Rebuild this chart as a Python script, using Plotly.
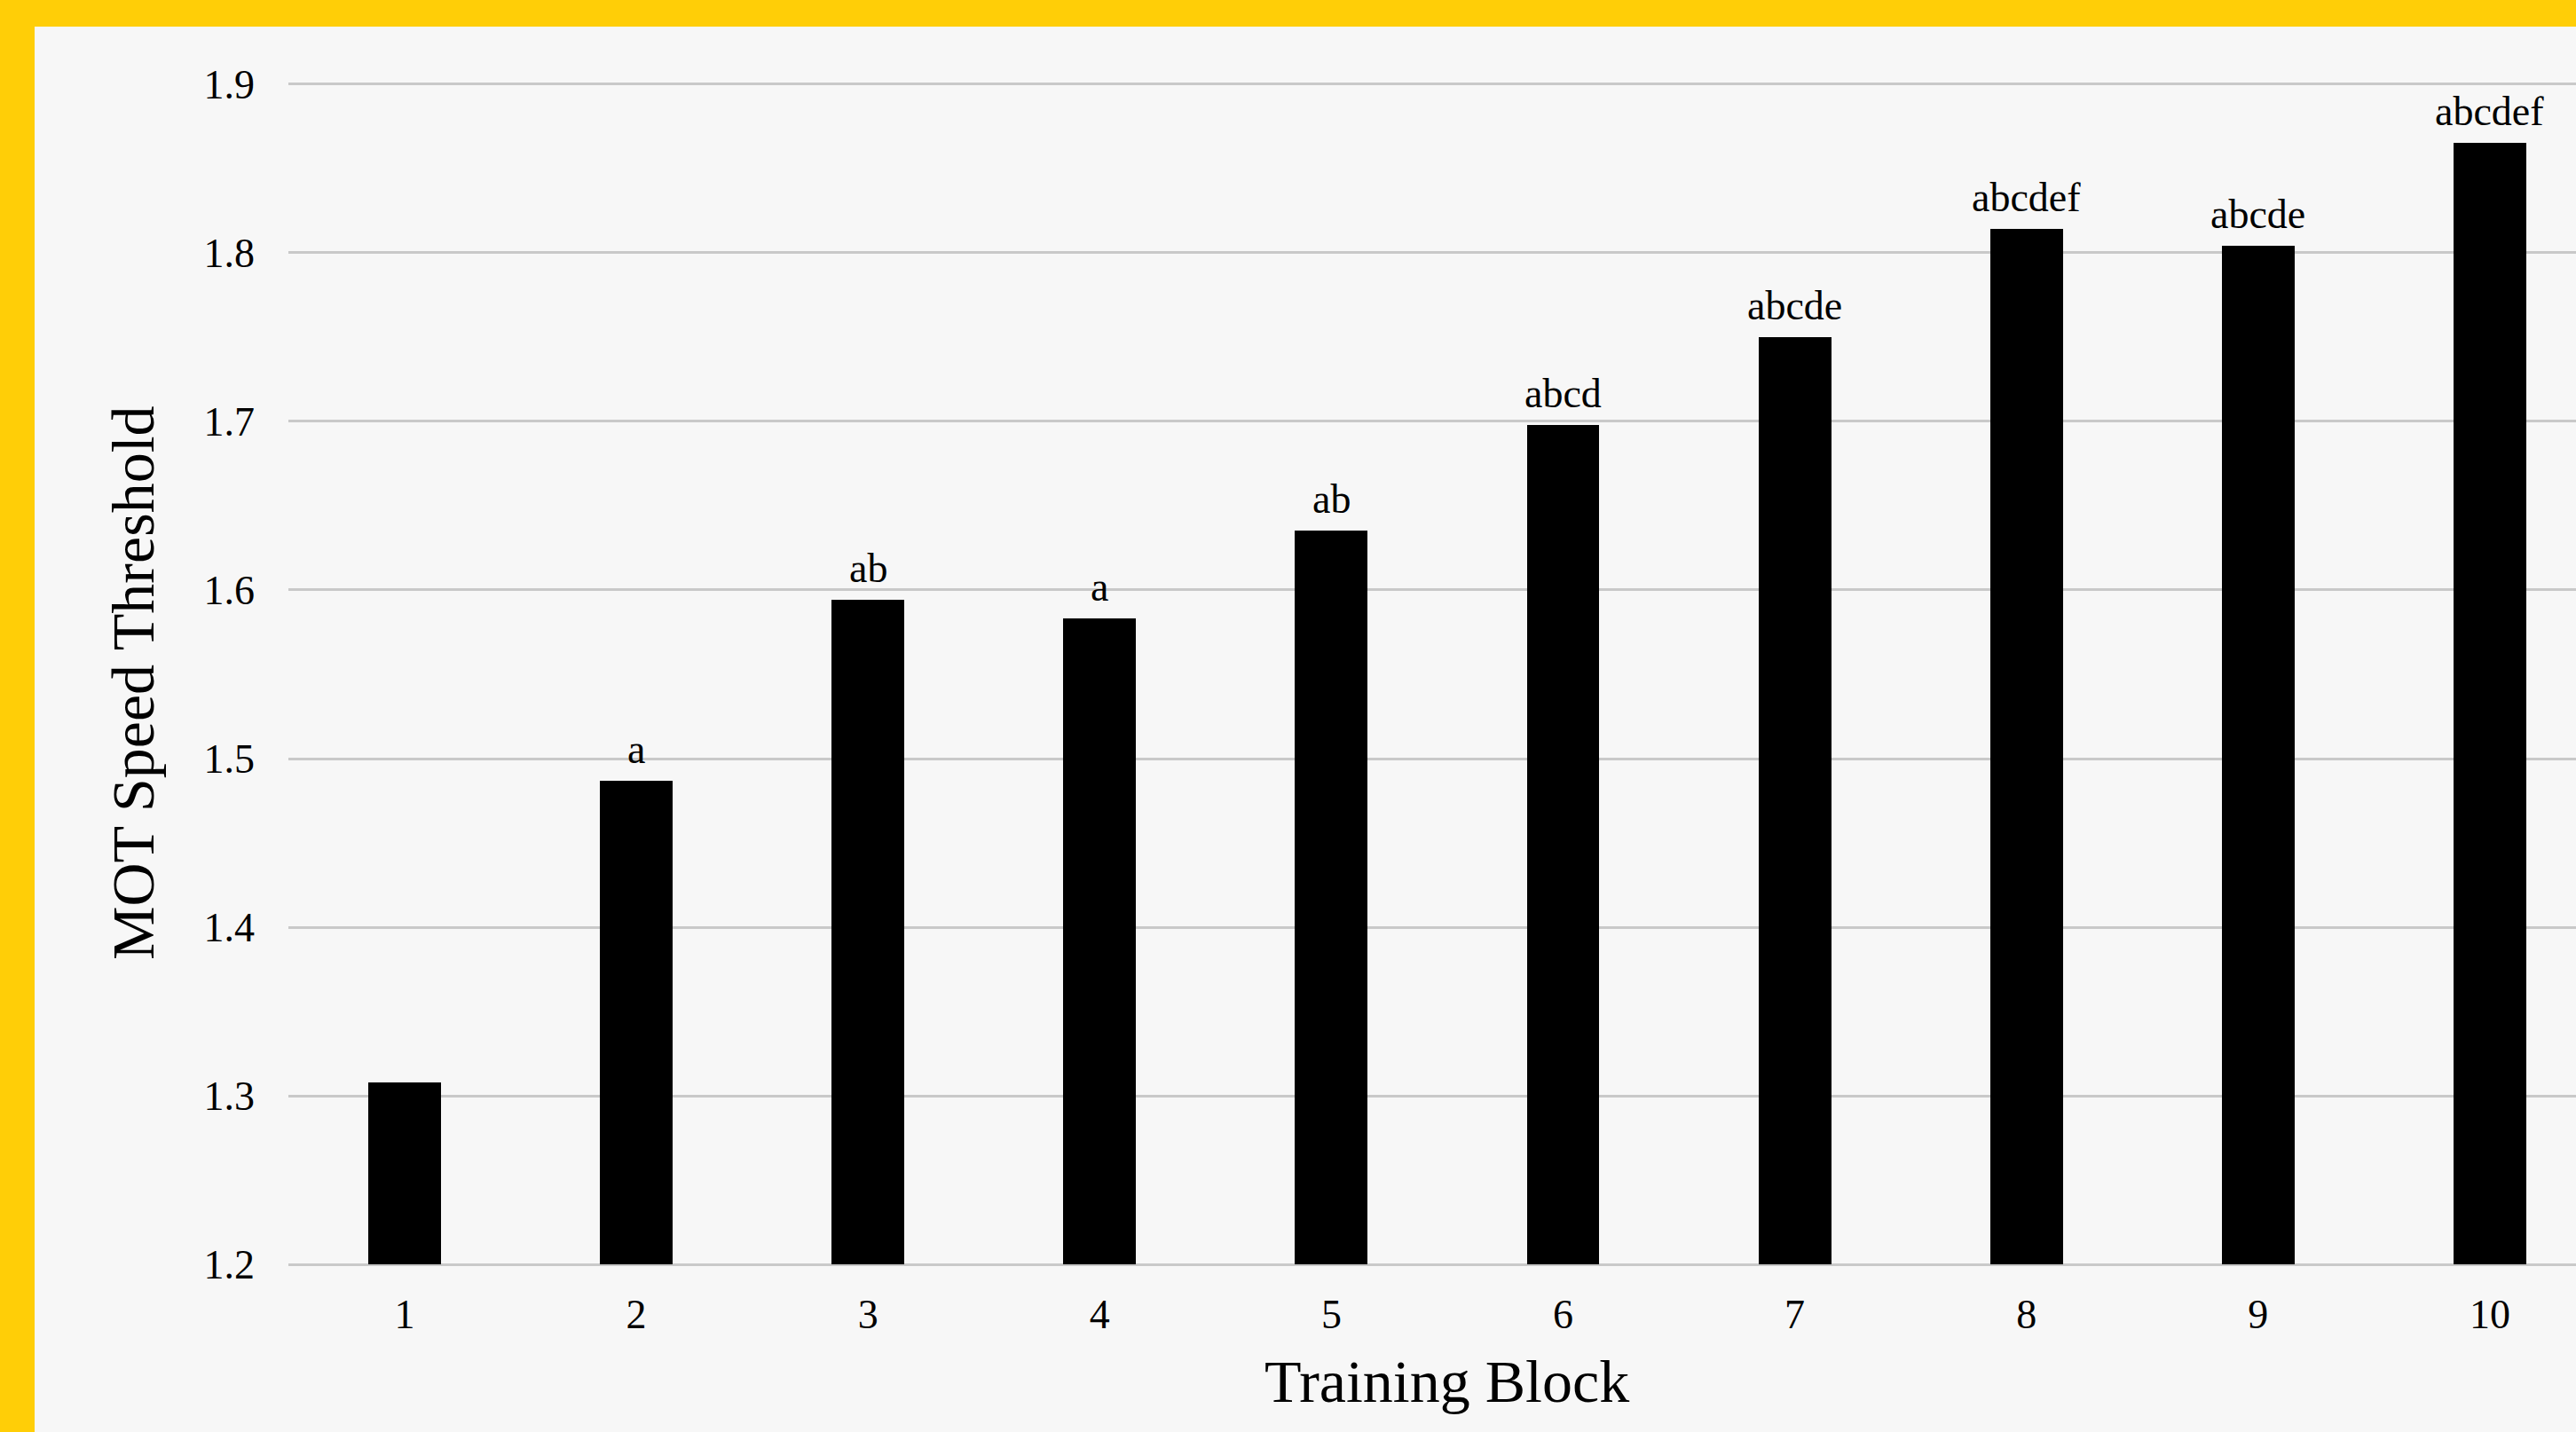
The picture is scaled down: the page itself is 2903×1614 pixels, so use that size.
import plotly.graph_objects as go

# ---- data ----
blocks = [1, 2, 3, 4, 5, 6, 7, 8, 9, 10]
thresholds = [1.308, 1.487, 1.594, 1.583, 1.635, 1.698, 1.750, 1.814, 1.804, 1.865]
sig_labels = ["", "a", "ab", "a", "ab", "abcd", "abcde", "abcdef", "abcde", "abcdef"]
y_ticks = [1.2, 1.3, 1.4, 1.5, 1.6, 1.7, 1.8, 1.9]
x_title = "Training Block"
y_title = "MOT Speed Threshold"

FONT = "Liberation Serif"
W, H = 2903, 1614
EPS = 0.002                 # tiny range padding so edge gridlines are drawn
PX_PER_UNIT = 1900.0        # vertical pixels per 1.0 of threshold
y_lo, y_hi = 1.2 - EPS, 1.9 + EPS
L, R = 325, 0
T = round(95 - EPS * PX_PER_UNIT)
B = round(189 - EPS * PX_PER_UNIT)
plot_w = W - L - R
plot_h = H - T - B
cat_px = 261.1  # pixel width of one category
x0 = 1 - (456 - L) / cat_px
x1 = x0 + plot_w / cat_px


def py(pix):
    """pixel row -> paper y"""
    return (H - B - pix) / plot_h


def px(pix):
    """pixel column -> paper x"""
    return (pix - L) / plot_w


fig = go.Figure()
fig.add_trace(go.Bar(
    x=blocks, y=[v - 1.2 for v in thresholds], base=1.2,
    width=0.314, marker=dict(color="#000000", line=dict(width=0)),
    hoverinfo="skip", showlegend=False,
))

annotations = []
for b, v, lab in zip(blocks, thresholds, sig_labels):
    if lab:
        annotations.append(dict(
            x=b, y=v, xref="x", yref="y", text=lab, showarrow=False,
            yanchor="bottom", xanchor="center", yshift=8,
            font=dict(family=FONT, size=46, color="#000000"),
        ))

# axis titles
annotations.append(dict(
    x=px(1630), y=py(1557), xref="paper", yref="paper",
    text=x_title, showarrow=False, xanchor="center", yanchor="middle",
    font=dict(family=FONT, size=68, color="#000000"),
))
annotations.append(dict(
    x=px(150), y=py(770), xref="paper", yref="paper",
    text=y_title, showarrow=False, xanchor="center", yanchor="middle", textangle=-90,
    font=dict(family=FONT, size=68, color="#000000"),
))

yellow = "#ffce07"
shapes = [
    dict(type="rect", xref="paper", yref="paper",
         x0=px(0), x1=1.0, y0=py(30), y1=py(0),
         fillcolor=yellow, line=dict(width=0), layer="above"),
    dict(type="rect", xref="paper", yref="paper",
         x0=px(0), x1=px(39), y0=py(H), y1=py(0),
         fillcolor=yellow, line=dict(width=0), layer="above"),
]

fig.update_layout(
    width=W, height=H,
    margin=dict(l=L, r=R, t=T, b=B, pad=0),
    paper_bgcolor="#f7f7f7", plot_bgcolor="#f7f7f7",
    font=dict(family=FONT, color="#000000"),
    annotations=annotations, shapes=shapes,
    bargap=0,
    xaxis=dict(
        range=[x0, x1], tickmode="array", tickvals=blocks,
        ticktext=[str(b) for b in blocks], showgrid=False, zeroline=False,
        showline=False, ticks="", tickfont=dict(family=FONT, size=46, color="#000000"),
        ticklabelstandoff=21,
    ),
    yaxis=dict(
        range=[y_lo, y_hi], tickmode="array", tickvals=y_ticks,
        ticktext=[f"{t:.1f}" for t in y_ticks], showgrid=True,
        gridcolor="#c9c9c9", gridwidth=3, zeroline=False, showline=False, ticks="",
        tickfont=dict(family=FONT, size=46, color="#000000"),
        ticklabelstandoff=37,
    ),
)

fig.write_html("out.html")
